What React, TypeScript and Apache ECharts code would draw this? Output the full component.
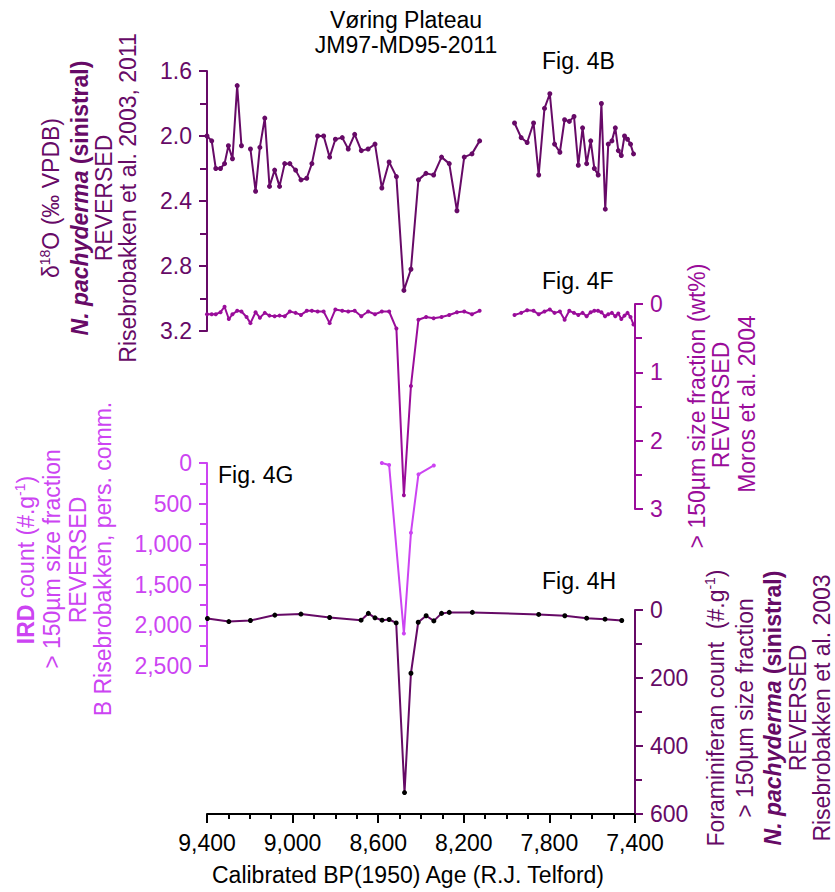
import React, { useEffect, useRef } from "react";
import * as echarts from "echarts";

const FONT = '"Liberation Sans", Arial, Helvetica, sans-serif';
const cB = "#670a67";
const cF = "#9a0c9a";
const cG = "#cc44f2";
const cH = "#660a66";

// Fig. 4B  δ18O (null = gap in record)
const ageB = [9400, 9378, 9359, 9337, 9318, 9300, 9281, 9259, 9239, 9218,
  9197, 9173, 9153, 9130, 9108, 9084, 9061, 9037, 9013, 8986, 8961, 8934, 8910, 8883, 8855, 8827, 8800, 8768, 8740, 8710,
  8679, 8647, 8615, 8583, 8549, 8515, 8480, 8447, 8412, 8377, 8341, 8304, 8268, 8232, 8198, 8162, 8126, 8045,
  7963, 7932, 7904, 7874, 7850, 7823, 7798, 7776, 7751, 7729, 7707, 7685, 7665, 7645, 7626, 7607, 7590, 7572, 7557,
  7539, 7525, 7508, 7492, 7478, 7464, 7449, 7435, 7421, 7407];
const d18O = [2.0, 2.03, 2.2, 2.2, 2.17, 2.06, 2.14, 1.69, 2.06, null,
  2.08, 2.34, 2.07, 1.89, 2.31, 2.21, 2.31, 2.17, 2.17, 2.21, 2.27, 2.26, 2.17, 2.0, 2.0, 2.13, 2.02, 2.01, 2.08, 1.99,
  2.09, 2.08, 2.05, 2.32, 2.16, 2.25, 2.95, 2.82, 2.27, 2.23, 2.24, 2.13, 2.17, 2.46, 2.13, 2.11, 2.03, null,
  1.92, 2.01, 2.04, 1.92, 2.24, 1.83, 1.74, 2.05, 2.10, 1.90, 1.91, 1.88, 2.18, 1.95, 2.17, 2.03, 2.20, 2.24, 1.80,
  2.45, 2.05, 2.03, 1.95, 2.09, 2.12, 2.0, 2.02, 2.05, 2.11];

// Fig. 4F  >150µm size fraction (wt%)
const ageF = [9400, 9378, 9359, 9337, 9318, 9298, 9281, 9259, 9239, 9215,
  9197, 9173, 9153, 9130, 9108, 9084, 9061, 9037, 9013, 8986, 8961, 8934, 8910, 8883, 8855, 8827, 8800, 8768, 8740, 8710,
  8679, 8647, 8615, 8583, 8549, 8515, 8480, 8447, 8412, 8376, 8341, 8304, 8268, 8232, 8198, 8162, 8126, 8045,
  7963, 7932, 7904, 7874, 7850, 7823, 7798, 7776, 7751, 7729, 7707, 7685, 7665, 7645, 7626, 7607, 7590, 7573, 7557,
  7540, 7525, 7508, 7492, 7478, 7464, 7449, 7435, 7421, 7407];
const coarseWt = [0.15, 0.15, 0.15, 0.12, 0.04, 0.22, 0.15, 0.10, 0.11, 0.19,
  0.28, 0.12, 0.20, 0.13, 0.17, 0.18, 0.17, 0.18, 0.11, 0.13, 0.16, 0.10, 0.10, 0.11, 0.11, 0.28, 0.08, 0.10, 0.11, 0.10,
  0.18, 0.11, 0.15, 0.11, 0.11, 0.36, 2.80, 1.20, 0.23, 0.19, 0.21, 0.19, 0.16, 0.12, 0.11, 0.15, 0.10, null,
  0.16, 0.13, 0.09, 0.10, 0.15, 0.11, 0.08, 0.13, 0.11, 0.23, 0.10, 0.13, 0.16, 0.13, 0.18, 0.12, 0.10, 0.10, 0.12,
  0.18, 0.15, 0.13, 0.18, 0.14, 0.22, 0.17, 0.13, 0.19, 0.30];

// Fig. 4G  IRD count
const ageG = [8583, 8549, 8480, 8447, 8412, 8340];
const ird = [0, 25, 2100, 860, 140, 30];

// Fig. 4H  Foraminiferan count
const ageH = [9398, 9298, 9197, 9083, 8961, 8827, 8680, 8646, 8615, 8582, 8549, 8516, 8477, 8447, 8413, 8376, 8340,
  8304, 8268, 8160, 7850, 7728, 7626, 7540, 7462];
const foram = [25, 34, 31, 15, 12, 22, 30, 10, 23, 30, 28, 38, 537, 186, 36, 17, 32, 10, 7, 7, 13, 17, 24, 27, 31];

const xTicks = { min: 7400, max: 9400, interval: 400 };

const pairs = (xs: number[], ys: (number | null)[]) =>
  xs.map((x, i) => [x, ys[i] === null ? "-" : ys[i]]);

const fmt = (v: number) => Math.round(v).toLocaleString("en-US");

function yAxis(gridIndex: number, position: string, color: string, min: number, max: number, interval: number, formatter: any) {
  return {
    type: "value",
    gridIndex,
    position,
    inverse: true,
    min,
    max,
    interval,
    axisLine: { show: true, onZero: false, lineStyle: { color, width: 2 } },
    axisTick: { show: true, length: 8, lineStyle: { color, width: 2 } },
    minorTick: { show: true, splitNumber: 2, length: 7, lineStyle: { color, width: 2 } },
    axisLabel: { fontSize: 23, color, fontFamily: FONT, margin: 15, formatter },
    splitLine: { show: false },
    minorSplitLine: { show: false },
  };
}

function richFor(color: string) {
  return {
    sup: { fontSize: 14, fill: color, fontFamily: FONT, verticalAlign: "top", lineHeight: 14 },
    b: { fontSize: 23, fill: color, fontFamily: FONT, fontWeight: "bold", lineHeight: 26 },
    bi: { fontSize: 23, fill: color, fontFamily: FONT, fontWeight: "bold", fontStyle: "italic", lineHeight: 26 },
  };
}

function vtext(x: number, y: number, text: string, color: string) {
  return {
    type: "text",
    x,
    y,
    rotation: Math.PI / 2,
    style: {
      text,
      fill: color,
      fontSize: 23,
      fontFamily: FONT,
      lineHeight: 26,
      align: "center",
      verticalAlign: "middle",
      rich: richFor(color),
    },
  };
}

function htext(x: number, y: number, text: string, align = "left") {
  return {
    type: "text",
    x,
    y,
    style: { text, fill: "#000", fontSize: 23, fontFamily: FONT, align, verticalAlign: "middle" },
  };
}

function series(xi: number, xs: number[], ys: (number | null)[], lineColor: string, dotColor: string, size = 5) {
  return {
    type: "line",
    xAxisIndex: xi,
    yAxisIndex: xi,
    data: pairs(xs, ys),
    symbol: "circle",
    symbolSize: size,
    showAllSymbol: true,
    connectNulls: false,
    lineStyle: { color: lineColor, width: 2 },
    itemStyle: { color: dotColor },
    emphasis: { disabled: true },
  };
}

export default function App() {
  const ref = useRef<HTMLDivElement>(null);
  useEffect(() => {
    document.body.style.margin = "0";
    const chart = echarts.init(ref.current as HTMLDivElement, null, { renderer: "svg" });
    const grids = [
      { left: 207, top: 71, width: 428, height: 260 },
      { left: 207, top: 304, width: 428, height: 205 },
      { left: 207, top: 463, width: 428, height: 203 },
      { left: 207, top: 610, width: 428, height: 204 },
    ];
    const xAxes = grids.map((_, i) => {
      if (i < 3) {
        return { type: "value", gridIndex: i, ...xTicks, inverse: true, show: false, axisLine: { onZero: false } };
      }
      return {
        type: "value",
        gridIndex: i,
        ...xTicks,
        inverse: true,
        axisLine: { show: true, onZero: false, lineStyle: { color: "#000", width: 2 } },
        axisTick: { show: true, length: 9, lineStyle: { color: "#000", width: 2 } },
        minorTick: { show: true, splitNumber: 4, length: 5, lineStyle: { color: "#000", width: 2 } },
        axisLabel: { fontSize: 23, color: "#000", fontFamily: FONT, margin: 17, formatter: fmt },
        splitLine: { show: false },
        minorSplitLine: { show: false },
      };
    });
    const option = {
      animation: false,
      backgroundColor: "#fff",
      grid: grids,
      xAxis: xAxes,
      yAxis: [
        yAxis(0, "left", cB, 1.6, 3.2, 0.4, (v: number) => v.toFixed(1)),
        yAxis(1, "right", cF, 0, 3, 1, (v: number) => String(v)),
        yAxis(2, "left", cG, 0, 2500, 500, fmt),
        yAxis(3, "right", cH, 0, 600, 200, fmt),
      ],
      series: [
        series(0, ageB, d18O, cB, cB),
        series(1, ageF, coarseWt, cF, cF, 4),
        series(2, ageG, ird, cG, cG, 4),
        series(3, ageH, foram, cH, "#000", 5),
      ],
      graphic: {
        elements: [
          htext(406, 20, "Vøring Plateau", "center"),
          htext(406, 45, "JM97-MD95-2011", "center"),
          htext(542, 61, "Fig. 4B"),
          htext(542, 281, "Fig. 4F"),
          htext(218, 475, "Fig. 4G"),
          htext(542, 581, "Fig. 4H"),
          htext(408, 875, "Calibrated BP(1950) Age (R.J. Telford)", "center"),
          // Fig. 4B axis title
          vtext(51, 198, "δ{sup|18}O (‰ VPDB)", cB),
          vtext(80, 198, "{bi|N. pachyderma} {b|(sinistral)}", cB),
          vtext(104, 198, "REVERSED", cB),
          vtext(128, 198, "Risebrobakken et al. 2003, 2011", cB),
          // Fig. 4F axis title
          vtext(697, 406, "> 150µm size fraction (wt%)", cF),
          vtext(721, 405, "REVERSED", cF),
          vtext(747, 404, "Moros et al. 2004", cF),
          // Fig. 4G axis title
          vtext(26, 560, "{b|IRD} count (#.g{sup|-1})", cG),
          vtext(52, 559, "> 150µm size fraction", cG),
          vtext(78, 560, "REVERSED", cG),
          vtext(103, 559, "B Risebrobakken, pers. comm.", cG),
          // Fig. 4H axis title
          vtext(716, 708, "Foraminiferan count  (#.g{sup|-1})", cH),
          vtext(745, 708, "> 150µm size fraction", cH),
          vtext(773, 708, "{bi|N. pachyderma} {b|(sinistral)}", cH),
          vtext(798, 708, "REVERSED", cH),
          vtext(822, 708, "Risebrobakken et al. 2003", cH),
        ],
      },
    };
    chart.setOption(option as any);
    return () => chart.dispose();
  }, []);
  return <div ref={ref} style={{ width: 835, height: 892 }} />;
}
